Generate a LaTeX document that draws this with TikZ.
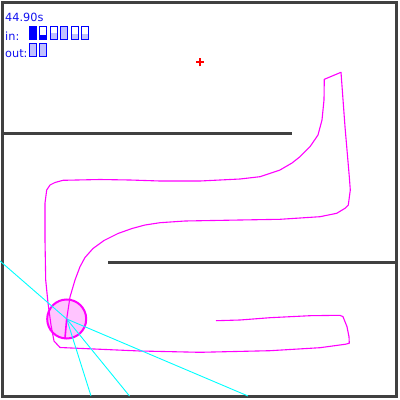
\documentclass[tikz,border=0pt]{standalone}
\usepackage{fontspec}
\setmainfont{DejaVu Sans}
\definecolor{wallgray}{HTML}{404040}
\definecolor{txtblue}{HTML}{1010F0}
\definecolor{pureblue}{HTML}{0000FF}
\definecolor{lightblue}{HTML}{C0C0FF}
\definecolor{robfill}{HTML}{FFC4FF}
\definecolor{mag}{HTML}{FF00FF}
\definecolor{cy}{HTML}{00FFFF}
\definecolor{rd}{HTML}{FF0000}
\begin{document}
\begin{tikzpicture}[x=1pt,y=-1pt,
  wall/.style={draw=wallgray,line width=3pt},
  label/.style={anchor=base west,inner sep=0pt,text=txtblue,font=\fontsize{11.3}{12}\selectfont},
  slot/.style={draw=pureblue,line width=0.9pt},
  traj/.style={draw=mag,line width=1.1pt,line join=round},
  ray/.style={draw=cy,line width=0.9pt}]
\useasboundingbox (0,0) rectangle (400,400);
% frame and walls
\draw[wall] (2.5,2.5) rectangle (396.5,396.5);
\coordinate (w1a) at (3,133.3);
\coordinate (w1b) at (292,133.3);
\coordinate (w2a) at (108,262.5);
\coordinate (w2b) at (396,262.5);
\draw[wall] (w1a) -- (w1b);
\draw[wall] (w2a) -- (w2b);
% texts
\node[label] (time) at (5,21.5) {44.90s};
\node[label] (in) at (5,40.5) {in:};
\node[label] (out) at (5,57.3) {out:};
% in slots
\fill[pureblue] (29.5,26.5) rectangle (36.5,39);
\draw[slot] (29.5,26.5) rectangle (36.5,39);
\fill[pureblue] (39.5,35.3) rectangle (46.5,39);
\draw[slot] (39.5,26.5) rectangle (46.5,39);
\fill[lightblue] (50.5,33) rectangle (57.5,39);
\draw[slot] (50.5,26.5) rectangle (57.5,39);
\fill[lightblue] (60.5,27) rectangle (67.5,39);
\draw[slot] (60.5,26.5) rectangle (67.5,39);
\fill[lightblue] (71.5,34.3) rectangle (78.5,39);
\draw[slot] (71.5,26.5) rectangle (78.5,39);
\fill[lightblue] (81.5,34.3) rectangle (88.5,39);
\draw[slot] (81.5,26.5) rectangle (88.5,39);
% out slots
\draw[slot,fill=lightblue] (29.5,43.3) rectangle (36.5,56);
\draw[slot,fill=lightblue] (39.5,43.3) rectangle (46.5,56);
% goal
\coordinate (goal) at (200.3,62.3);
\draw[rd,line width=2pt] ([xshift=-4pt]goal) -- ([xshift=4pt]goal);
\draw[rd,line width=2pt] ([yshift=-4pt]goal) -- ([yshift=4pt]goal);
% robot
\node[circle,draw=mag,line width=2pt,fill=robfill,minimum size=39pt,inner sep=0pt] (robot) at (66.7,319) {};
% trajectory
\draw[traj] (216,320.7) -- (240,320) -- (270,317.7) -- (310,315.7) -- (340,315.3) -- (343,316.7)
  -- (347,326.7) -- (349,336.7) -- (349.3,343.3) -- (345,344.3) -- (320,347.7) -- (270,350.7)
  -- (200,352.3) -- (140,351) -- (60,347.5) -- (54,341) -- (51,325) -- (48,303) -- (45.7,280)
  -- (45,240) -- (45,203) -- (46.7,190) -- (50,185) -- (55,182.5) -- (63,180.3) -- (100,179.5)
  -- (130,180) -- (160,181) -- (200,181) -- (240,179) -- (260,176.7) -- (280,170) -- (292,163)
  -- (300,156.7) -- (310,146.7) -- (318,135) -- (322,120) -- (324,100) -- (324.3,79.3)
  -- (341,72.3) -- (345,126.7) -- (349.3,176.7) -- (350.3,190) -- (348.3,205) -- (345,208.3)
  -- (336.7,213.3) -- (320,216.7) -- (280,219.3) -- (240,220) -- (185,221) -- (160,222.7)
  -- (145,225) -- (132,228.5) -- (118,233.5) -- (104,240.5) -- (93,248.5) -- (85,257.5) -- (80,266.7)
  -- (75,280) -- (70,297) -- (robot.center);
% rays
\coordinate (r1) at (0,261);
\coordinate (r2) at (91,396);
\coordinate (r3) at (129.5,396);
\coordinate (r4) at (248,396);
\draw[ray] (robot.center) -- (r1);
\draw[ray] (robot.center) -- (r2);
\draw[ray] (robot.center) -- (r3);
\draw[ray] (robot.center) -- (r4);
% heading
\coordinate (head) at (65,338);
\draw[mag,line width=1.6pt] (robot.center) -- (head);
\end{tikzpicture}
\end{document}
